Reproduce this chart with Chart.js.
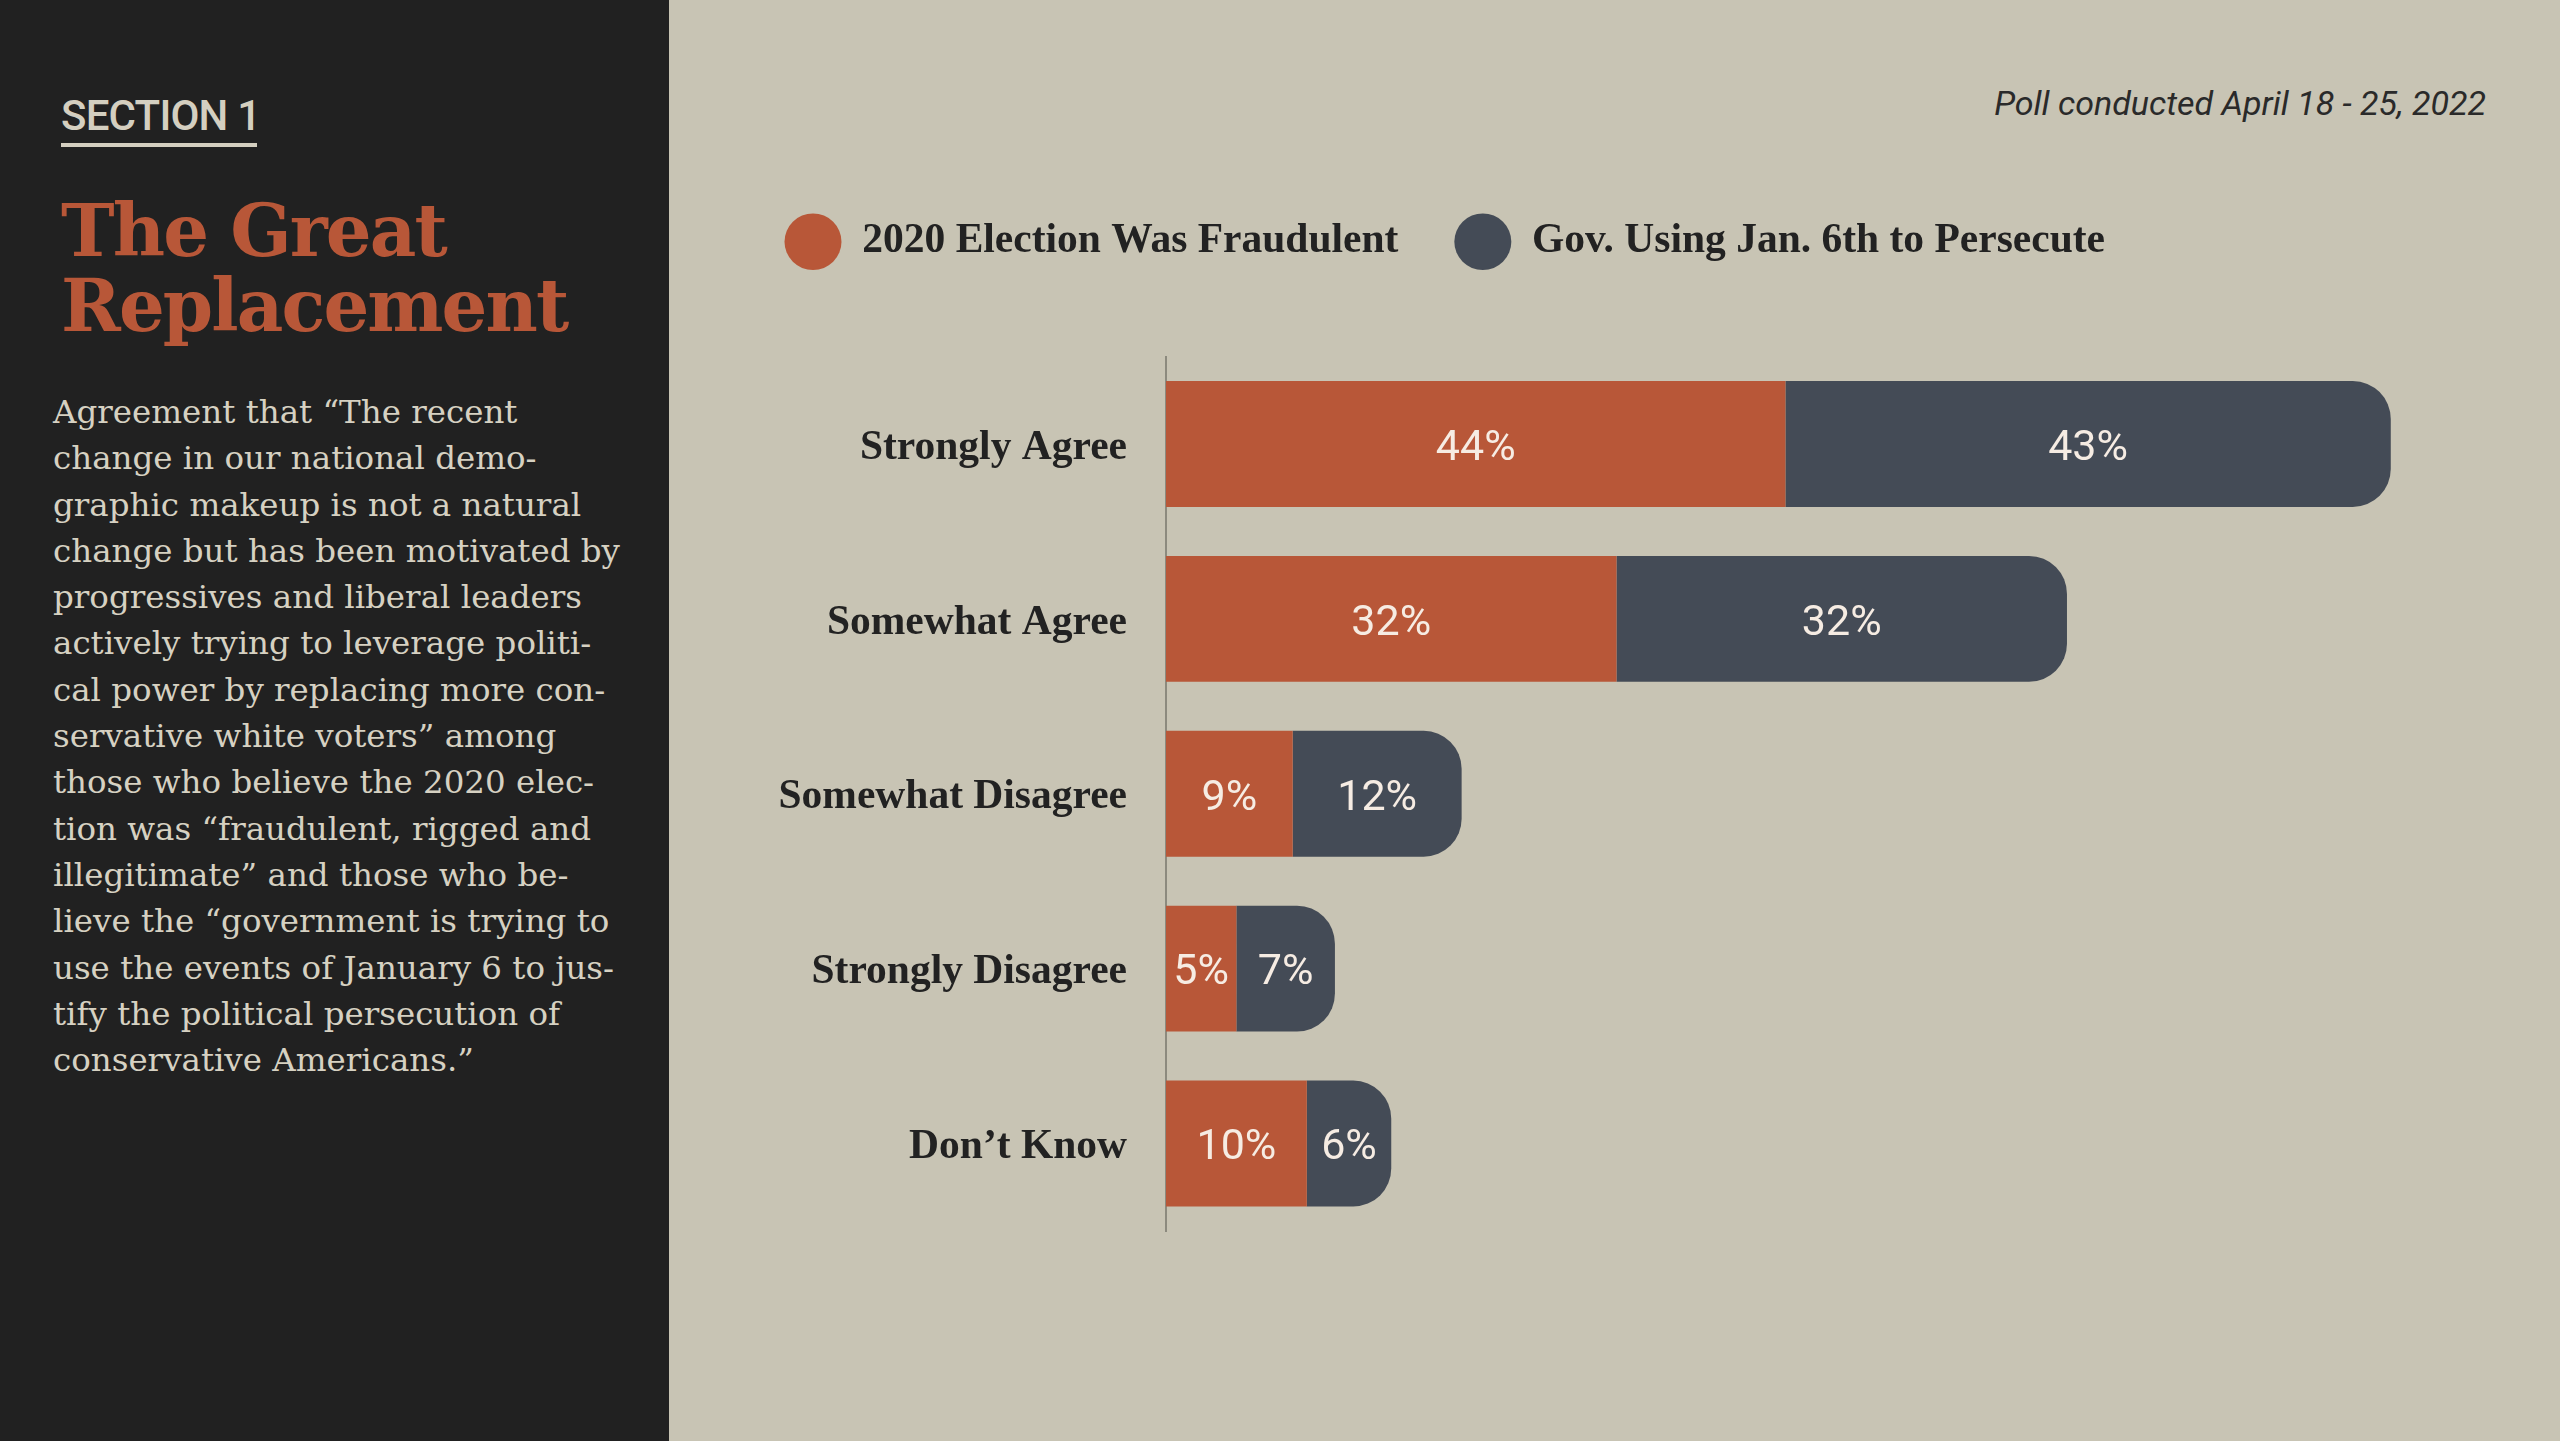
<!DOCTYPE html>
<html>
<head>
<meta charset="utf-8">
<script src="https://cdn.jsdelivr.net/npm/chart.js@4.4.1/dist/chart.umd.min.js"></script>
<style>
  html, body { margin: 0; padding: 0; width: 2560px; height: 1441px; overflow: hidden; background: #c8c4b4; }
  #side { position: absolute; left: 0; top: 0; width: 669px; height: 1441px; background: #212121; }
  #section { position: absolute; left: 61px; top: 95px; font: 500 42px Roboto; line-height: 42px; color: #d4cfc0; letter-spacing: -0.8px; }
  #rule { position: absolute; left: 61px; top: 143px; width: 196px; height: 4px; background: #d4cfc0; }
  #title { position: absolute; left: 61px; top: 193px; font: bold 72px "DejaVu Serif"; line-height: 75px; color: #b85738; letter-spacing: -1.9px; }
  #blurb { position: absolute; left: 53px; top: 389px; font: 32.5px "DejaVu Serif"; line-height: 46.3px; color: #d6d1c2; white-space: nowrap; }
  #poll { position: absolute; right: 74px; top: 86px; font: italic 34px Roboto; line-height: 34px; color: #2a2a2a; }
  #wrap { position: absolute; left: 669px; top: 0; width: 1891px; height: 1441px; }
</style>
</head>
<body>
<div id="side">
  <div id="section">SECTION 1</div>
  <div id="rule"></div>
  <div id="title">The Great<br>Replacement</div>
  <div id="blurb">Agreement that “The recent<br>change in our national demo-<br>graphic makeup is not a natural<br>change but has been motivated by<br>progressives and liberal leaders<br>actively trying to leverage politi-<br>cal power by replacing more con-<br>servative white voters” among<br>those who believe the 2020 elec-<br>tion was “fraudulent, rigged and<br>illegitimate” and those who be-<br>lieve the “government is trying to<br>use the events of January 6 to jus-<br>tify the political persecution of<br>conservative Americans.”</div>
</div>
<div id="poll">Poll conducted April 18 - 25, 2022</div>
<div id="wrap"><canvas id="myChart" width="1891" height="1441"></canvas></div>

<script>
// chart data
const categories = ['Strongly Agree', 'Somewhat Agree', 'Somewhat Disagree', 'Strongly Disagree', 'Don\u2019t Know'];
const fraudulent = [44, 32, 9, 5, 10];
const persecute = [43, 32, 12, 7, 6];
const seriesNames = ['2020 Election Was Fraudulent', 'Gov. Using Jan. 6th to Persecute'];

// percent text inside each segment
const barLabels = {
    id: 'barLabels',
    afterDatasetsDraw(chart) {
        const ctx = chart.ctx;
        ctx.save();
        ctx.font = '400 43px Roboto';
        ctx.fillStyle = '#f6ece3';
        ctx.textAlign = 'center';
        ctx.textBaseline = 'middle';
        chart.data.datasets.forEach(function (ds, i) {
            chart.getDatasetMeta(i).data.forEach(function (bar, j) {
                ctx.fillText(ds.data[j] + '%', (bar.x + bar.base) / 2, bar.y + 5);
            });
        });
        ctx.restore();
    }
};

// extra room under the legend
const legendGap = {
    id: 'legendGap',
    beforeInit(chart) {
        const fit = chart.legend.fit;
        chart.legend.fit = function () {
            fit.bind(chart.legend)();
            this.height += 84;
        };
    }
};

const ctx = document.getElementById('myChart');
const myChart = new Chart(ctx, {
    type: 'bar',
    data: {
        labels: categories,
        datasets: [{
            label: seriesNames[0],
            data: fraudulent,
            backgroundColor: '#b85738',
            borderWidth: 0,
            borderRadius: 0
        }, {
            label: seriesNames[1],
            data: persecute,
            backgroundColor: '#444b56',
            borderWidth: 0,
            borderRadius: { topLeft: 0, bottomLeft: 0, topRight: 38, bottomRight: 38 }
        }]
    },
    options: {
        indexAxis: 'y',
        responsive: false,
        animation: false,
        devicePixelRatio: 1,
        barPercentage: 0.72,
        categoryPercentage: 1,
        layout: {
            padding: { left: 59.5, top: 165, right: 127, bottom: 210 }
        },
        scales: {
            x: {
                stacked: true,
                min: 0,
                max: 90,
                display: false
            },
            y: {
                stacked: true,
                grid: { display: false, drawTicks: false },
                border: { display: true, color: '#8c8a7e', width: 2 },
                ticks: {
                    padding: 39,
                    labelOffset: 4,
                    color: '#222222',
                    font: { family: 'Liberation Serif', weight: 'bold', size: 41.5 }
                },
                afterFit: function (scale) {
                    scale.width = 437.5;
                }
            }
        },
        plugins: {
            legend: {
                position: 'top',
                align: 'start',
                labels: {
                    usePointStyle: true,
                    pointStyle: 'circle',
                    pointStyleWidth: 57,
                    boxHeight: 40,
                    padding: 56,
                    color: '#222222',
                    font: { family: 'Liberation Serif', weight: 'bold', size: 41.5 }
                }
            },
            tooltip: { enabled: false }
        }
    },
    plugins: [barLabels, legendGap]
});
</script>
</body>
</html>
